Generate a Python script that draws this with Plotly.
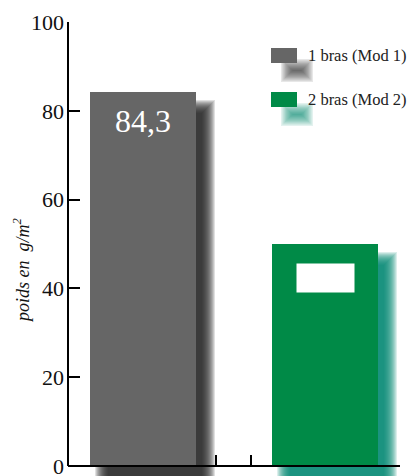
import plotly.graph_objects as go

# ---- data ----
categories = ["1 bras (Mod 1)", "2 bras (Mod 2)"]
values = [84.3, 50.0]
value_labels = ["84,3", ""]
y_ticks = [0, 20, 40, 60, 80, 100]
y_title = "poids en\u00a0\u00a0g/m<sup>2</sup>"

bar_colors = ["#666666", "#008a47"]
shadow_rgb = [(33, 33, 33), (0, 135, 110)]

# ---- geometry (page pixels; page has an 8px body margin) ----
OFF = 8
W, H = 418 - OFF, 476 - OFF
ML, MR, MT, MB = 68 - OFF, 18, 22 - OFF, 0
PLOT_W = W - ML - MR
PLOT_H = H - MT - MB
PX_PER_Y = 4.44
PX_PER_X = 182.0
Y_MIN = -10 / PX_PER_Y
X_MIN = -75 / PX_PER_X
X_MAX = X_MIN + PLOT_W / PX_PER_X
BAR_W = 106 / PX_PER_X

def px2paper_x(px):
    return (px - 68) / PLOT_W

def px2paper_y(py):
    return (476 - py) / PLOT_H

xs = list(range(len(categories)))
fig = go.Figure()

# blurred drop shadows
n_layers = 14
step = 1.0
dxp, dyp = 12, 15
for i, v in enumerate(values):
    r, g, b = shadow_rgb[i]
    for k in range(n_layers):
        inset = (k - n_layers / 2) * step
        top = v - (dyp + inset) / PX_PER_Y
        base = Y_MIN - 5
        fig.add_trace(go.Bar(
            x=[xs[i] + dxp / PX_PER_X], y=[top - base], base=[base],
            width=[BAR_W - 2 * inset / PX_PER_X],
            marker=dict(color=f"rgba({r},{g},{b},0.14)", line=dict(width=0)),
            showlegend=False, hoverinfo="skip"))

# main bars
fig.add_trace(go.Bar(
    x=xs, y=values, width=[BAR_W] * len(xs),
    marker=dict(color=bar_colors, line=dict(width=0)),
    showlegend=False))

# value labels
for i, v in enumerate(values):
    if value_labels[i]:
        fig.add_annotation(x=xs[i], y=v, yanchor="top", yshift=-9,
                           text=value_labels[i], showarrow=False,
                           font=dict(family="Liberation Serif", size=32, color="white"))
    else:
        fig.add_annotation(x=xs[i], y=v, yanchor="top", yshift=-19,
                           text=" ", showarrow=False, width=57, height=28,
                           bgcolor="white", borderpad=0)

# y axis line from 0 to 100
fig.add_shape(type="line", xref="paper", yref="y", x0=0, x1=0, y0=0, y1=100,
              line=dict(color="black", width=2))

# y axis title (placed like the reference)
fig.add_annotation(xref="paper", yref="paper", x=px2paper_x(21), y=px2paper_y(270),
                   text=y_title, textangle=-90, showarrow=False,
                   xanchor="center", yanchor="middle",
                   font=dict(family="Liberation Serif", size=18, color="#111",
                             style="italic"))

# manual legend
for i, name in enumerate(categories):
    r, g, b = shadow_rgb[i]
    y0 = 48 + 44 * i
    y1 = y0 + 15
    for k in range(10):
        ins = k * 1.3
        fig.add_shape(type="rect", xref="paper", yref="paper",
                      x0=px2paper_x(281 + ins), x1=px2paper_x(313 - ins),
                      y0=px2paper_y(y0 + 11 + ins), y1=px2paper_y(y1 + 19 - ins),
                      fillcolor=f"rgba({r},{g},{b},0.11)", line=dict(width=0),
                      layer="above")
    fig.add_shape(type="rect", xref="paper", yref="paper",
                  x0=px2paper_x(271), x1=px2paper_x(297),
                  y0=px2paper_y(y0), y1=px2paper_y(y1),
                  fillcolor=bar_colors[i], line=dict(width=0), layer="above")
    fig.add_annotation(xref="paper", yref="paper", x=px2paper_x(306),
                       y=px2paper_y((y0 + y1) / 2), xanchor="left", yanchor="middle",
                       text=name, showarrow=False,
                       font=dict(family="Liberation Serif", size=16.5, color="#222"))

fig.update_layout(
    width=W, height=H,
    margin=dict(l=ML, r=MR, t=MT, b=MB, autoexpand=False),
    paper_bgcolor="white", plot_bgcolor="white",
    barmode="overlay", bargap=0,
    font=dict(family="Liberation Serif", color="#111"),
    xaxis=dict(range=[X_MIN, X_MAX], anchor="free",
               position=px2paper_y(466),
               showline=True, linecolor="black", linewidth=2,
               tickmode="array", tickvals=[0.401, 0.593, X_MAX - 0.004],
               ticks="inside", ticklen=10, tickwidth=2, tickcolor="black",
               showticklabels=False, showgrid=False, zeroline=False,
               fixedrange=True),
    yaxis=dict(range=[Y_MIN, 100], tickmode="array", tickvals=y_ticks,
               ticks="inside", ticklen=12, tickwidth=2, tickcolor="black",
               showline=False, showgrid=False, zeroline=False,
               tickfont=dict(family="Liberation Serif", size=22, color="#111"),
               ticklabelstandoff=3, ticklabeloverflow="allow",
               fixedrange=True),
)

fig.write_html("out.html")
